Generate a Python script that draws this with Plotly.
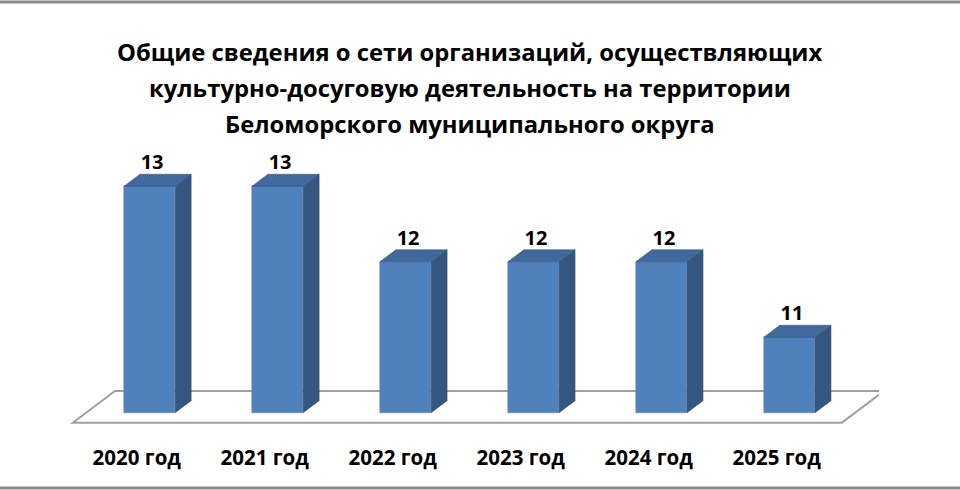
import plotly.graph_objects as go

# data
years = ['2020 год', '2021 год', '2022 год', '2023 год', '2024 год', '2025 год']
counts = [13, 13, 12, 12, 12, 11]
title_lines = ['Общие сведения о сети организаций, осуществляющих',
               'культурно-досуговую деятельность на территории',
               'Беломорского муниципального округа']

BASE = 10
FONT = 'Open Sans'
front_col = '#4F81BD'
side_col = '#34567F'
top_col = '#41699C'

n = len(years)
xs = list(range(n))
w = 0.4               # bar width (x units)
dx, dy = 0.125, 0.16  # bar depth offset
fdx, fdy = 0.33, 0.42  # floor depth
fpos = 0.31            # where the bars sit inside the floor

fig = go.Figure()

# floor (shape below the traces)
fx0 = -0.6
fx1 = n - 1 + 0.41
fy0 = BASE - fpos * fdy
fig.add_shape(type='path', xref='x', yref='y', layer='below',
              path=f'M {fx0},{fy0} L {fx1},{fy0} L {fx1 + fdx},{fy0 + fdy} '
                   f'L {fx0 + fdx},{fy0 + fdy} Z',
              fillcolor='white', line=dict(color='#A0A0A0', width=2))

# front faces
fig.add_trace(go.Bar(x=xs, y=[v - BASE for v in counts], base=BASE, width=w,
                     marker=dict(color=front_col, line=dict(color='#5B8AC2', width=0.5)),
                     showlegend=False, hoverinfo='skip'))

# side and top faces
sx, sy, tx, ty = [], [], [], []
for x, v in zip(xs, counts):
    r = x + w / 2
    l = x - w / 2
    sx += [r, r + dx, r + dx, r, r, None]
    sy += [BASE, BASE + dy, v + dy, v, BASE, None]
    tx += [l, l + dx, r + dx, r, l, None]
    ty += [v, v + dy, v + dy, v, v, None]
fig.add_trace(go.Scatter(x=sx, y=sy, mode='lines', fill='toself', fillcolor=side_col,
                         line=dict(color='#2E4C72', width=0.5), hoverinfo='skip', showlegend=False))
fig.add_trace(go.Scatter(x=tx, y=ty, mode='lines', fill='toself', fillcolor=top_col,
                         line=dict(color='#2E4C72', width=0.5), hoverinfo='skip', showlegend=False))

# value labels
fig.add_trace(go.Scatter(x=[x + 0.02 for x in xs], y=[v + dy for v in counts],
                         mode='text', text=[str(v) for v in counts], textposition='top center',
                         textfont=dict(family=FONT, size=20, color='black', weight='bold'),
                         hoverinfo='skip', showlegend=False))

# title, one annotation per line
title_y = [1.2947, 1.1755, 1.0563]
for line, ty_ in zip(title_lines, title_y):
    fig.add_annotation(text='<b>' + line + '</b>', xref='paper', yref='paper',
                       x=0.5, y=ty_, xanchor='center', yanchor='middle', showarrow=False,
                       font=dict(family=FONT, size=23.8, color='black'))

# frame lines top and bottom
fig.add_shape(type='line', xref='paper', yref='paper', x0=-0.1, x1=1.15, y0=1.46, y1=1.46,
              line=dict(color='#8C8C8C', width=3))
fig.add_shape(type='line', xref='paper', yref='paper', x0=-0.1, x1=1.15, y0=-0.149, y1=-0.149,
              line=dict(color='#8C8C8C', width=3))

fig.update_layout(width=960, height=490, margin=dict(l=60, r=81, t=141, b=47),
                  paper_bgcolor='white', plot_bgcolor='white', bargap=0)
fig.update_xaxes(range=[-0.7, 5.7], tickvals=[x - 0.1 for x in xs], ticktext=years,
                 showgrid=False, zeroline=False, showline=False, ticks='',
                 tickfont=dict(family=FONT, size=20.5, color='black', weight='bold'))
fig.update_yaxes(range=[9.6, 13.6], visible=False)

# page body has an 8px default margin; drop it so the chart fills the window
fig.write_html('out.html', config={'displayModeBar': False},
               post_script="document.body.style.margin='0px';")
